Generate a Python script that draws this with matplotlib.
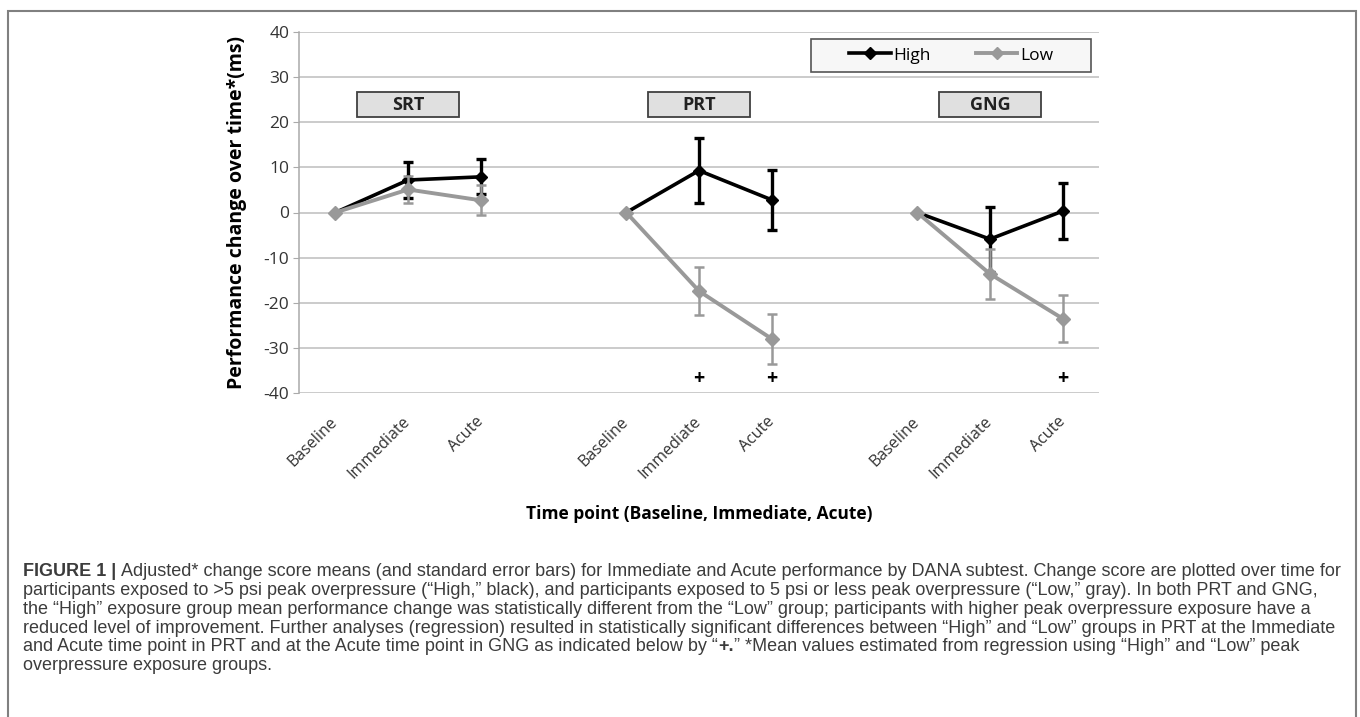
import matplotlib
matplotlib.use('Agg')
import matplotlib.pyplot as plt
from matplotlib.patches import Rectangle
from matplotlib.lines import Line2D

# Datos (cambio en ms)
groups = ['SRT', 'PRT', 'GNG']
timepoints = ['Baseline', 'Immediate', 'Acute']

srt_high = [0, 7.2, 7.9]
srt_high_se = [0, 4.0, 3.9]
srt_low = [0, 5.1, 2.7]
srt_low_se = [0, 3.0, 3.3]

prt_high = [0, 9.3, 2.8]
prt_high_se = [0, 7.1, 6.6]
prt_low = [0, -17.4, -28.0]
prt_low_se = [0, 5.4, 5.5]

gng_high = [0, -5.9, 0.3]
gng_high_se = [0, 7.2, 6.2]
gng_low = [0, -13.6, -23.5]
gng_low_se = [0, 5.5, 5.2]

# (grupo, punto temporal) con diferencia significativa
significant = [(1, 1), (1, 2), (2, 2)]
sig_y = -37

high_means = [srt_high, prt_high, gng_high]
high_errs = [srt_high_se, prt_high_se, gng_high_se]
low_means = [srt_low, prt_low, gng_low]
low_errs = [srt_low_se, prt_low_se, gng_low_se]

caption = [
    [("FIGURE 1 |", 'bold'), (" Adjusted* change score means (and standard error bars) for Immediate and Acute performance by DANA subtest. Change score are plotted over time for", 'normal')],
    [("participants exposed to >5 psi peak overpressure (\u201cHigh,\u201d black), and participants exposed to 5 psi or less peak overpressure (\u201cLow,\u201d gray). In both PRT and GNG,", 'normal')],
    [("the \u201cHigh\u201d exposure group mean performance change was statistically different from the \u201cLow\u201d group; participants with higher peak overpressure exposure have a", 'normal')],
    [("reduced level of improvement. Further analyses (regression) resulted in statistically significant differences between \u201cHigh\u201d and \u201cLow\u201d groups in PRT at the Immediate", 'normal')],
    [("and Acute time point in PRT and at the Acute time point in GNG as indicated below by \u201c", 'normal'), ("+.", 'bold'), ("\u201d *Mean values estimated from regression using \u201cHigh\u201d and \u201cLow\u201d peak", 'normal')],
    [("overpressure exposure groups.", 'normal')],
]

BLACK = '#000000'
GRAY = '#999999'
W, H = 1360, 717

plt.rcParams['font.family'] = ['Open Sans', 'DejaVu Sans']
plt.rcParams['axes.unicode_minus'] = False

fig = plt.figure(figsize=(W / 100, H / 100), dpi=100)
ax = fig.add_axes([299 / W, 1 - 393 / H, 800 / W, 361 / H])

ax.set_xlim(-0.5, 10.5)
ax.set_ylim(-40, 40)
ax.set_yticks(range(-40, 41, 10))
ax.grid(axis='y', color='#BDBDBD', lw=1.1)
ax.set_axisbelow(True)
for s in ['top', 'right', 'bottom']:
    ax.spines[s].set_visible(False)
ax.spines['left'].set_color('#AAAAAA')
ax.spines['left'].set_linewidth(1.1)
ax.tick_params(axis='y', length=4, color='#AAAAAA', labelsize=12.5, labelcolor='#333333', pad=3)

xticks = []
for g in range(len(groups)):
    xs = [g * 4 + t for t in range(len(timepoints))]
    xticks += xs
    ax.plot(xs, high_means[g], color=BLACK, lw=2.6, marker='D', ms=6.5, zorder=3)
    ax.errorbar(xs[1:], high_means[g][1:], yerr=high_errs[g][1:], fmt='none',
                ecolor=BLACK, elinewidth=2.4, capsize=3.5, capthick=2.4, zorder=3)
    ax.plot(xs, low_means[g], color=GRAY, lw=2.8, marker='D', ms=7.5, zorder=4)
    ax.errorbar(xs[1:], low_means[g][1:], yerr=low_errs[g][1:], fmt='none',
                ecolor=GRAY, elinewidth=1.8, capsize=3.5, capthick=1.8, zorder=4)
    # caja con el nombre del subtest
    xc = xs[1]
    ax.add_patch(Rectangle((xc - 0.7, 21.1), 1.4, 5.5, facecolor='#E0E0E0',
                           edgecolor='#404040', lw=1.3, zorder=5))
    ax.text(xc, 23.85, groups[g], ha='center', va='center', fontsize=13,
            fontweight='bold', color='#222222', zorder=6)

for g, t in significant:
    ax.text(g * 4 + t, sig_y, '+', ha='center', va='center', fontsize=14,
            fontweight='bold', color=BLACK)

ax.set_xticks(xticks)
ax.set_xticklabels(timepoints * len(groups), rotation=45, ha='right', va='center',
                   rotation_mode='anchor', fontsize=11.5, color='#333333')
ax.tick_params(axis='x', length=0, pad=19)
for lbl in ax.get_xticklabels():
    lbl.set_x(lbl.get_position()[0])

ax.set_ylabel('Performance change over time*(ms)', fontsize=14, fontweight='bold')
ax.yaxis.set_label_coords(-0.065, 0.5)
ax.set_xlabel('Time point (Baseline, Immediate, Acute)', fontsize=12.5, fontweight='bold')
ax.xaxis.set_label_coords(0.5, -0.31)

# leyenda
ax.add_patch(Rectangle((0.64, 0.889), 0.35, 0.091, transform=ax.transAxes,
                       facecolor='#F7F7F7', edgecolor='#555555', lw=1.2, zorder=5))
handles = [Line2D([], [], color=BLACK, lw=2.6, marker='D', ms=6),
           Line2D([], [], color=GRAY, lw=2.8, marker='D', ms=6.5)]
leg = ax.legend(handles, ['High', 'Low'], loc='center', bbox_to_anchor=(0.815, 0.935),
                ncol=2, frameon=False, fontsize=12.5, handlelength=2.4, handletextpad=0.15,
                columnspacing=2.6)
leg.set_zorder(6)

# marco de la figura
fig.patches.append(Rectangle((8 / W, -0.1), (1356 - 8) / W, (H - 11) / H + 0.1,
                             transform=fig.transFigure, fill=False,
                             edgecolor='#808080', lw=1.5))

# pie de figura, ajustado al ancho de la primera línea
renderer = fig.canvas.get_renderer()
cap_font = ['Liberation Sans', 'DejaVu Sans']


def width_px(s, weight, size):
    t = fig.text(0, 0, s, fontsize=size, fontweight=weight, family=cap_font)
    w = t.get_window_extent(renderer).width
    t.remove()
    return w


size = 11
line1 = sum(width_px(s, w, size) for s, w in caption[0])
size = size * (1338 - 23) / line1

y = 572
for line in caption:
    x = 23
    for s, weight in line:
        lead = s[:len(s) - len(s.lstrip())]
        if lead:
            x += width_px('a' + lead + 'a', 'normal', size) - width_px('aa', 'normal', size)
        s = s.lstrip()
        fig.text(x / W, 1 - y / H, s, fontsize=size, fontweight=weight,
                 family=cap_font, color='#3c3c3c', va='center')
        x += width_px(s, weight, size)
    y += 18.7

fig.savefig('out.png', dpi=100)
